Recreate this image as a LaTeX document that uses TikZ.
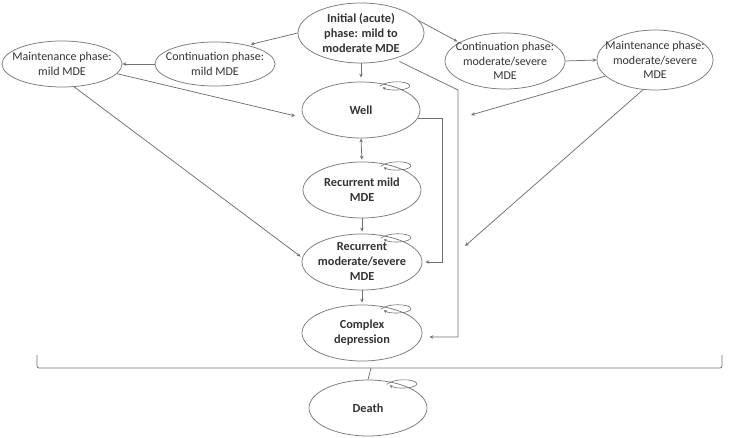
\documentclass[tikz,border=0pt]{standalone}
\usepackage{fontspec}
\setmainfont{Carlito}
\usetikzlibrary{shapes.geometric,arrows.meta}
\definecolor{ellc}{HTML}{7A7A7A}
\definecolor{linec}{HTML}{707070}
\definecolor{txtc}{HTML}{333333}
\tikzset{
  el/.style={ellipse,draw=ellc,line width=0.75pt,inner sep=0pt},
  tn/.style={align=center,font=\fontsize{12}{14.5}\selectfont,text=txtc,inner sep=0pt},
  tb/.style={align=center,font=\fontsize{12.3}{15}\selectfont\bfseries,text=txtc,inner sep=0pt},
  ln/.style={draw=linec,line width=0.75pt},
  arr/.style={ln,-{Stealth[length=4pt,width=3.5pt]}},
  darr/.style={ln,{Stealth[length=4pt,width=3.5pt]}-{Stealth[length=4pt,width=3.5pt]}},
  selfloop/.pic={
    \draw[ln,line width=0.6pt,-{Stealth[length=3pt,width=3pt]}] (0,0) .. controls (6,-6) and (28,-6) .. (30,-1)
      .. controls (31,4) and (10,5) .. (3,1);
  }
}
\begin{document}
\begin{tikzpicture}[x=1pt,y=-1pt]
\useasboundingbox (0,0) rectangle (731,438);
% ellipses
\node[el,minimum width=126,minimum height=60] (init) at (361,33) {};
\node[el,minimum width=120,minimum height=44] (contmild) at (215,64) {};
\node[el,minimum width=120,minimum height=46] (maintmild) at (62,64) {};
\node[el,minimum width=120,minimum height=56] (contmodsev) at (505,61) {};
\node[el,minimum width=116,minimum height=60] (maintmodsev) at (655,60) {};
\node[el,minimum width=118,minimum height=56] (well) at (361,110) {};
\node[el,minimum width=118,minimum height=56] (recmild) at (362,190) {};
\node[el,minimum width=120,minimum height=56] (recmodsev) at (362,262) {};
\node[el,minimum width=120,minimum height=56] (complex) at (362,333) {};
\node[el,minimum width=118,minimum height=56] (death) at (368,408) {};
% texts
\node[tb] (init-t) at (init) {Initial (acute)\\phase: mild to\\moderate MDE};
\node[tn] (contmild-t) at (contmild) {Continuation phase:\\mild MDE};
\node[tn] (maintmild-t) at (maintmild) {Maintenance phase:\\mild MDE};
\node[tn] (contmodsev-t) at (contmodsev) {Continuation phase:\\moderate/severe\\MDE};
\node[tn] (maintmodsev-t) at (maintmodsev) {Maintenance phase:\\moderate/severe\\MDE};
\node[tb] (well-t) at (well) {Well};
\node[tb] (recmild-t) at (recmild) {Recurrent mild\\MDE};
\node[tb] (recmodsev-t) at (recmodsev) {Recurrent\\moderate/severe\\MDE};
\node[tb] (complex-t) at (complex) {Complex\\depression};
\node[tb] (death-t) at (death) {Death};
% self loops
\pic at ([shift={(-2,3)}]well.52) {selfloop};
\pic at ([shift={(-2,3)}]recmild.52) {selfloop};
\pic at ([shift={(-2,3)}]recmodsev.52) {selfloop};
\pic at ([shift={(-2,3)}]complex.52) {selfloop};
\pic at ([shift={(-2,3)}]death.52) {selfloop};
% free coordinates
\coordinate (elbowA) at (442,262);
\coordinate (elbowB) at (458,90);
\coordinate (elbowC) at (458,337);
\coordinate (freeA) at (471,115);
\coordinate (freeB) at (465,246);
\coordinate (braceL) at (37,355);
\coordinate (braceR) at (722,355);
\coordinate (braceM) at (371,368);
% connectors
\draw[arr,shorten >=3pt] (init.west) -- (contmild.30);
\draw[arr] (contmild.west) -- (maintmild.east);
\draw[arr,shorten >=9pt] (maintmild.-10) -- (well.188);
\draw[arr,shorten >=2pt] (maintmild.-62) -- (recmodsev.176);
\draw[arr,shorten >=4pt] (init.south) -- (well.north);
\draw[darr,shorten >=2pt] (well.south) -- (recmild.north);
\draw[arr,shorten >=2pt] (recmild.south) -- (recmodsev.north);
\draw[arr,shorten >=2pt] (recmodsev.south) -- (complex.north);
\draw[arr,shorten >=3pt] (well.-8) -| (elbowA) -- (elbowA -| recmodsev.east);
\draw[arr,shorten >=7pt,shorten <=6pt] (init.-38) -- (elbowB) -- (elbowC) -- (elbowC -| complex.east);
\draw[arr,shorten >=2pt] (init.12) -- (contmodsev.158);
\draw[arr] (contmodsev.east) -- (maintmodsev.west);
\draw[arr] (maintmodsev.198) -- (freeA);
\draw[arr] (maintmodsev.248) -- (freeB);
% brace
\draw[ln,rounded corners=2pt] (braceL) -- (braceL |- braceM) -- (braceR |- braceM) -- (braceR);
\draw[ln] (braceM) -- (death.north);
\end{tikzpicture}
\end{document}
